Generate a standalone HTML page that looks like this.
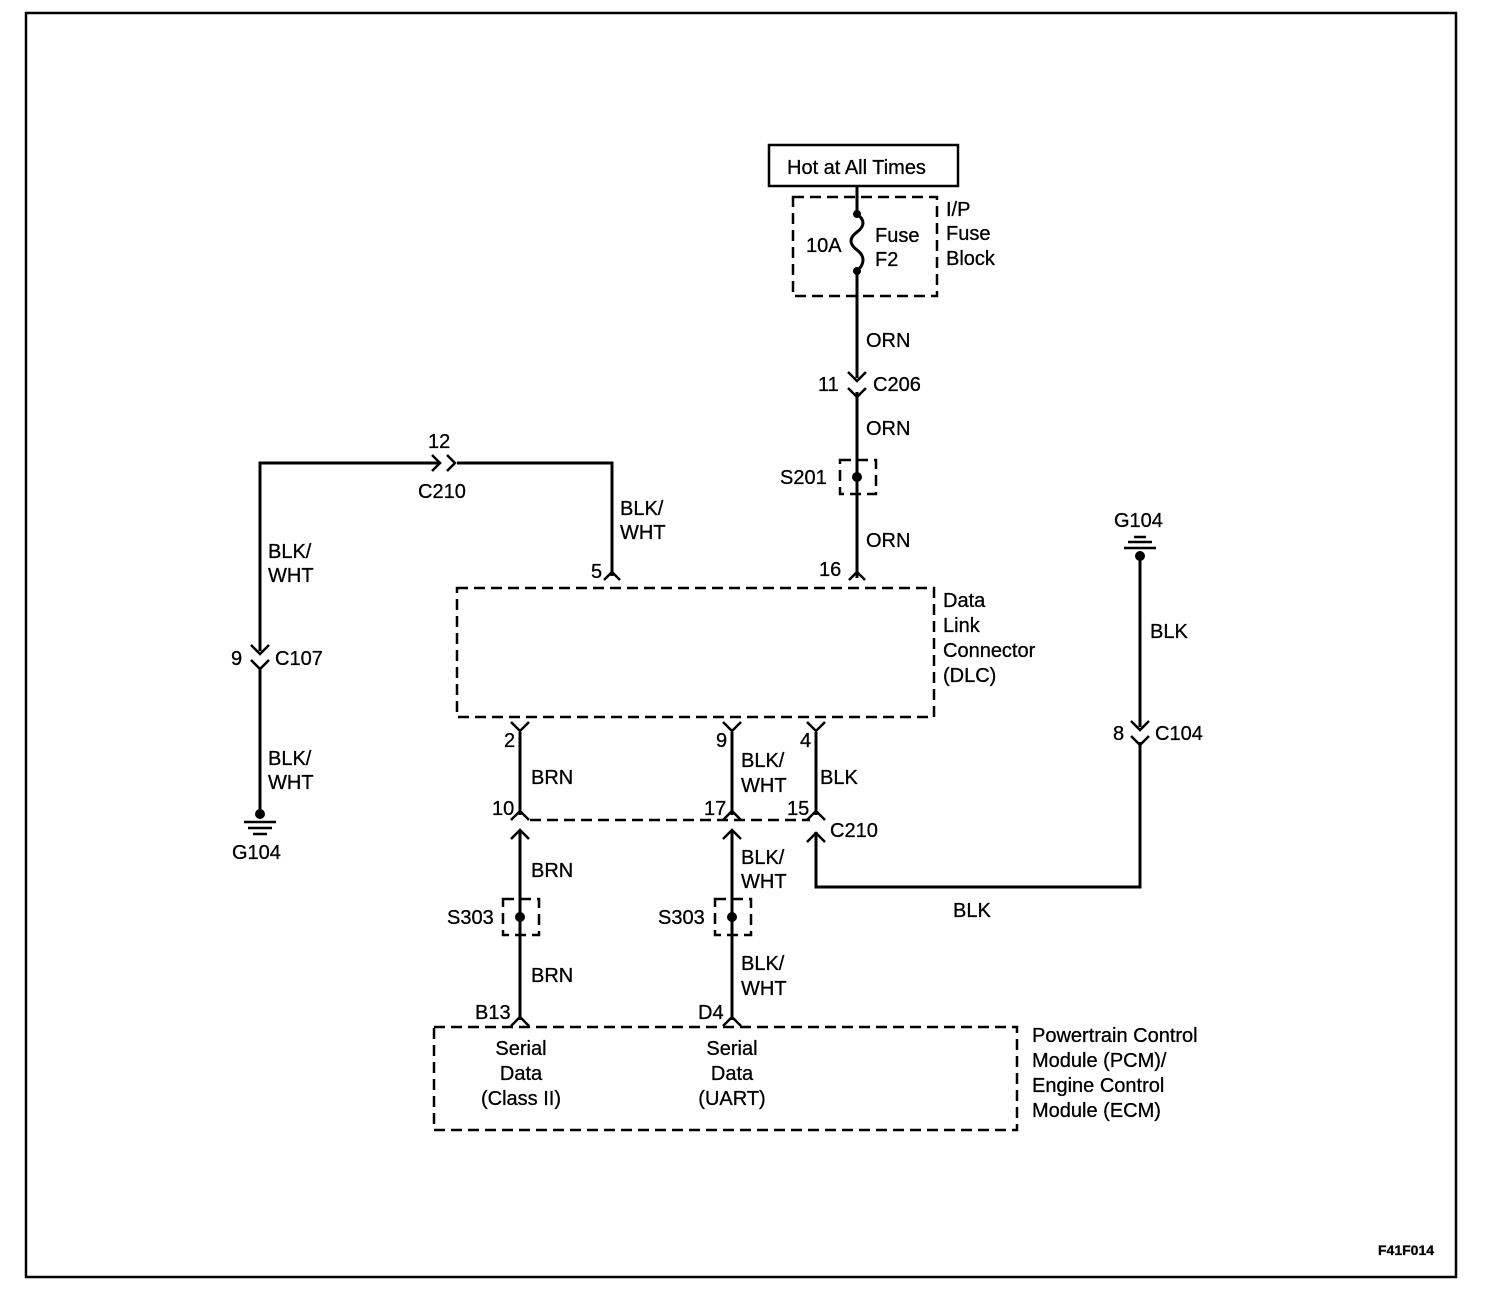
<!DOCTYPE html>
<html><head><meta charset="utf-8"><style>
html,body{margin:0;padding:0;background:#fff}
svg{display:block}
text{font-family:"Liberation Sans",Arial,sans-serif;font-size:20px;fill:#000;stroke:#000;stroke-width:0.3}
</style></head><body>
<svg width="1504" height="1290" viewBox="0 0 1504 1290" xmlns="http://www.w3.org/2000/svg">
<rect x="26" y="13" width="1430" height="1264" fill="none" stroke="#000" stroke-width="2.5"/>
<g fill="none" stroke="#000" stroke-width="3">
<rect x="769" y="145" width="189" height="41" stroke-width="2.5"/>
<path d="M857 186 V214 M857 271 V378 M857 392 V578"/>
<path d="M857 214 c8 6 8 12 0 18 c-8 6 -8 12 0 18 c8 6 8 14 0 21"/>
<path d="M848 372 L857 381 L866 372 M848 388 L857 397 L866 388" stroke-width="2.5"/>
<path d="M849 580 L857 572 L865 580" stroke-width="2.5"/>
<path d="M612 576 V463 H457 M440 463 H260 V651 M260 668 V812"/>
<path d="M432 455 L440 463 L432 471 M447 455 L455 463 L447 471" stroke-width="2.5"/>
<path d="M604 580 L612 572 L620 580" stroke-width="2.5"/>
<path d="M251 645 L260 654 L269 645 M251 660 L260 669 L269 660" stroke-width="2.5"/>
<path d="M244 822 H276 M248 828 H272 M253 834 H267" stroke-width="2.5"/>
<path d="M520 732 V815 M520 830 V1020 M732 732 V815 M732 830 V1020 M816 732 V815 M816 832 V887 H1140 V742 M1140 727 V556"/>
<path d="M511 722 L520 731 L529 722 M723 722 L732 731 L741 722 M807 722 L816 731 L825 722" stroke-width="2.5"/>
<path d="M511 820 L520 811 L529 820 M723 820 L732 811 L741 820 M807 820 L816 811 L825 820" stroke-width="2.5"/>
<path d="M511 839 L520 830 L529 839 M723 839 L732 830 L741 839 M807 842 L816 833 L825 842" stroke-width="2.5"/>
<path d="M511 1026 L520 1017 L529 1026 M723 1026 L732 1017 L741 1026" stroke-width="2.5"/>
<path d="M1131 721 L1140 730 L1149 721 M1131 736 L1140 745 L1149 736" stroke-width="2.5"/>
<path d="M1124 548 H1156 M1128 542 H1152 M1134 537 H1146" stroke-width="2.5"/>
</g>
<g fill="#000">
<circle cx="857" cy="214" r="4"/><circle cx="857" cy="271" r="4"/>
<circle cx="857" cy="477" r="5"/><circle cx="520" cy="917" r="5"/><circle cx="732" cy="917" r="5"/>
<circle cx="260" cy="814" r="5"/><circle cx="1140" cy="556" r="5"/>
</g>
<g fill="none" stroke="#000" stroke-width="2.5" stroke-dasharray="11,6">
<rect x="793" y="197" width="144" height="99"/>
<rect x="840" y="460" width="36" height="34"/>
<rect x="457" y="588" width="477" height="129"/>
<path d="M530 820 H810"/>
<rect x="503" y="899" width="36" height="36"/>
<rect x="715" y="899" width="36" height="36"/>
<rect x="434" y="1027" width="583" height="103"/>
</g>
<text x="787" y="174">Hot at All Times</text>
<text x="806" y="252">10A</text>
<text x="875" y="242">Fuse</text>
<text x="875" y="266">F2</text>
<text x="946" y="216">I/P</text>
<text x="946" y="240">Fuse</text>
<text x="946" y="265">Block</text>
<text x="866" y="347">ORN</text>
<text x="818" y="391">11</text>
<text x="873" y="391">C206</text>
<text x="866" y="435">ORN</text>
<text x="780" y="484">S201</text>
<text x="866" y="547">ORN</text>
<text x="819" y="576">16</text>
<text x="428" y="448">12</text>
<text x="418" y="498">C210</text>
<text x="620" y="515">BLK/</text>
<text x="620" y="539">WHT</text>
<text x="591" y="578">5</text>
<text x="268" y="558">BLK/</text>
<text x="268" y="582">WHT</text>
<text x="231" y="665">9</text>
<text x="275" y="665">C107</text>
<text x="268" y="765">BLK/</text>
<text x="268" y="789">WHT</text>
<text x="232" y="859">G104</text>
<text x="943" y="607">Data</text>
<text x="943" y="632">Link</text>
<text x="943" y="657">Connector</text>
<text x="943" y="682">(DLC)</text>
<text x="504" y="747">2</text>
<text x="716" y="747">9</text>
<text x="800" y="747">4</text>
<text x="531" y="784">BRN</text>
<text x="741" y="767">BLK/</text>
<text x="741" y="792">WHT</text>
<text x="820" y="784">BLK</text>
<text x="492" y="815">10</text>
<text x="704" y="815">17</text>
<text x="787" y="815">15</text>
<text x="830" y="837">C210</text>
<text x="531" y="877">BRN</text>
<text x="741" y="864">BLK/</text>
<text x="741" y="888">WHT</text>
<text x="447" y="924">S303</text>
<text x="658" y="924">S303</text>
<text x="531" y="982">BRN</text>
<text x="741" y="970">BLK/</text>
<text x="741" y="995">WHT</text>
<text x="475" y="1019">B13</text>
<text x="698" y="1019">D4</text>
<text x="521" y="1055" text-anchor="middle">Serial</text>
<text x="521" y="1080" text-anchor="middle">Data</text>
<text x="521" y="1105" text-anchor="middle">(Class II)</text>
<text x="732" y="1055" text-anchor="middle">Serial</text>
<text x="732" y="1080" text-anchor="middle">Data</text>
<text x="732" y="1105" text-anchor="middle">(UART)</text>
<text x="1032" y="1042">Powertrain Control</text>
<text x="1032" y="1067">Module (PCM)/</text>
<text x="1032" y="1092">Engine Control</text>
<text x="1032" y="1117">Module (ECM)</text>
<text x="1114" y="527">G104</text>
<text x="1150" y="638">BLK</text>
<text x="1113" y="740">8</text>
<text x="1155" y="740">C104</text>
<text x="953" y="917">BLK</text>
<text x="1378" y="1255" style="font-size:14px;font-weight:bold">F41F014</text>
</svg>
</body></html>
